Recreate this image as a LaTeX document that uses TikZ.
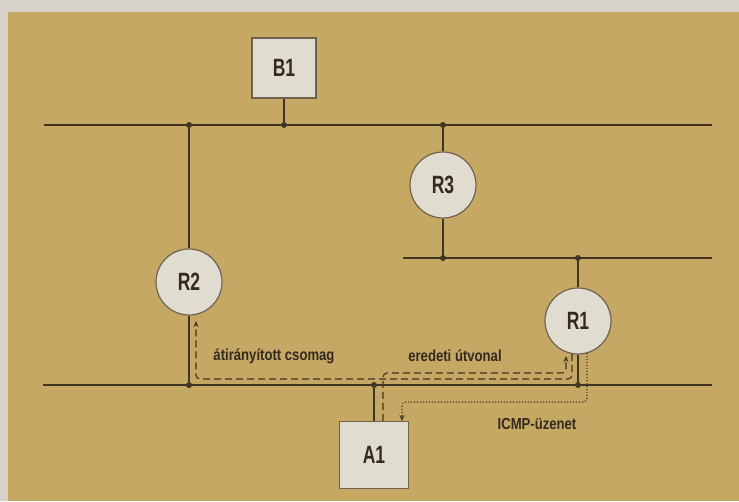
\documentclass[tikz,border=0pt]{standalone}
\usepackage{fontspec}
\setmainfont{Liberation Sans}
\newfontfamily\netfont{Liberation Sans}[FakeStretch=0.7]
\newfontfamily\notefont{Liberation Sans}[FakeStretch=0.82]
\usetikzlibrary{arrows.meta}
\usepackage{xcolor}
\definecolor{paper}{RGB}{196,168,100}
\definecolor{rim}{RGB}{214,210,200}
\definecolor{wire}{RGB}{66,52,34}
\definecolor{edge}{RGB}{112,98,78}
\definecolor{nodefill}{RGB}{224,220,208}
\definecolor{ink}{RGB}{52,42,32}

\begin{document}
\begin{tikzpicture}[x=1pt, y=-1pt, box/.style={draw=edge, fill=nodefill, line width=1.2pt, minimum width=64pt, minimum height=60pt, font=\netfont\bfseries\fontsize{25}{25}\selectfont, text=ink}, router/.style={circle, draw=edge, fill=nodefill, line width=1.2pt, minimum size=66pt, inner sep=0pt, font=\netfont\bfseries\fontsize{25}{25}\selectfont, text=ink}, bus/.style={draw=wire, line width=1.2pt}, dot/.style={circle, fill=wire, inner sep=0pt, minimum size=6pt}, note/.style={font=\notefont\bfseries\fontsize{16}{16}\selectfont, text=ink}, route/.style={draw=wire, line width=1.1pt, dash pattern=on 7pt off 4pt, rounded corners=4pt, -{Stealth[length=6pt,width=5pt]}}, icmp/.style={draw=wire, line width=1.1pt, dash pattern=on 1.2pt off 1.8pt, rounded corners=4pt, -{Stealth[length=6pt,width=5pt]}}]
\fill[rim] (0,0) rectangle (739,501);
\fill[paper] (8,12) rectangle (739,501);
\useasboundingbox (0,0) rectangle (739,501);
% the three segments
\coordinate (topL) at (44,125); \coordinate (topR) at (712,125);
\coordinate (midL) at (403,258); \coordinate (midR) at (712,258);
\coordinate (botL) at (43,385); \coordinate (botR) at (712,385);
\draw[bus] (topL) -- (topR);
\draw[bus] (midL) -- (midR);
\draw[bus] (botL) -- (botR);
% hosts and routers
\node[box] (B1) at (284,68) {B1};
\node[box, minimum width=69pt, minimum height=67pt] (A1) at (374,455) {A1};
\node[router] (R2) at (189,282) {R2};
\node[router] (R3) at (443,185) {R3};
\node[router] (R1) at (578,321) {R1};
\node[dot] (jB1) at (284,125) {};
\node[dot] (jR2t) at (189,125) {};
\node[dot] (jR3t) at (443,125) {};
\node[dot] (jR3b) at (443,258) {};
\node[dot] (jR1t) at (578,258) {};
\node[dot] (jR2b) at (189,385) {};
\node[dot] (jR1b) at (578,385) {};
\node[dot] (jA1) at (374,385) {};
\draw[bus] (B1) -- (jB1);
\draw[bus] (jR2t) -- (R2) -- (jR2b);
\draw[bus] (jR3t) -- (R3) -- (jR3b);
\draw[bus] (jR1t) -- (R1) -- (jR1b);
\draw[bus] (jA1) -- (A1);
% packet flows
\draw[route] ([xshift=9pt]A1.north) |- (566,373) -- (566,356);
\draw[route] (572,354) -- (572,379) -| (196,321);
\draw[icmp] (587,353) -- (587,402) -| (402,421);
\node[note] (redir) at (274,356) {átirányított csomag};
\node[note] (orig) at (455,356) {eredeti útvonal};
\node[note] (msg) at (537,424) {ICMP-üzenet};
\end{tikzpicture}
\end{document}
